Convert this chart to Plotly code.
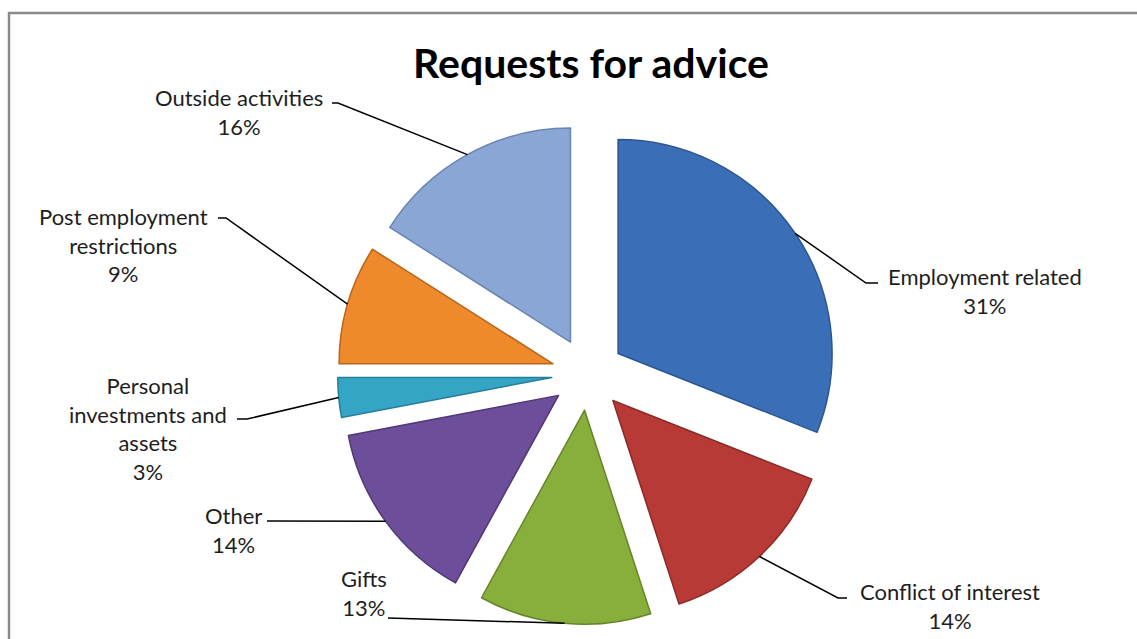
import math
import plotly.graph_objects as go

# Requests for advice, share by category (percent), clockwise from 12 o'clock
categories = [
    "Employment related",
    "Conflict of interest",
    "Gifts",
    "Other",
    "Personal investments and assets",
    "Post employment restrictions",
    "Outside activities",
]
shares = [31, 14, 13, 14, 3, 9, 16]
label_text = [
    "Employment related",
    "Conflict of interest",
    "Gifts",
    "Other",
    "Personal<br>investments and<br>assets",
    "Post employment<br>restrictions",
    "Outside activities",
]

colors = ["#3a6fb8", "#b83a36", "#88ae3c", "#6c4e9a", "#35a5c6", "#ef8a2c", "#8aa6d4"]
edges = ["#2b5590", "#8c2a27", "#66852a", "#503874", "#257e99", "#b8661c", "#6a84b0"]

W, H = 1137, 639
PULL = 0.17
CX, CY = 588, 374          # pie centre in pixels
R = 214                    # slice radius in pixels
HALF = R * (1 + PULL)      # half-size of the pie domain

fig = go.Figure(go.Pie(
    labels=categories,
    values=shares,
    sort=False,
    direction="clockwise",
    rotation=0,
    pull=[PULL] * len(shares),
    marker=dict(colors=colors, line=dict(color=edges, width=1.5)),
    textinfo="none",
    hoverinfo="label+percent",
    showlegend=False,
    domain=dict(x=[(CX - HALF) / W, (CX + HALF) / W],
                y=[1 - (CY + HALF) / H, 1 - (CY - HALF) / H]),
))

# label anchor (pixel) and elbow of the leader line next to the label
label_pos = [(985, 291), (950, 606), (364, 593), (233, 530), (148, 428), (123, 245), (239, 112)]
elbows = [((878, 283), (866, 283)),
          ((847, 598), (838, 598)),
          ((388, 618), (388, 618)),
          ((267, 521), (267, 521)),
          ((237, 419), (247, 419)),
          ((218, 218), (226, 218)),
          ((332, 103), (338, 103))]

def px(x):
    return x / W

def py(y):
    return 1 - y / H

total = sum(shares)
cum = 0
annotations = [dict(text="<b>Requests for advice</b>", x=px(591), y=py(63),
                    xref="paper", yref="paper", showarrow=False,
                    font=dict(family="Lato", size=41, color="#000000"),
                    xanchor="center", yanchor="middle")]
shapes = [dict(type="rect", xref="paper", yref="paper",
               x0=px(9), y0=py(13), x1=1.02, y1=-0.02,
               line=dict(color="#8a8a8a", width=2.5), fillcolor="rgba(0,0,0,0)")]

for i, v in enumerate(shares):
    mid = (cum + v / 2) / total * 2 * math.pi
    cum += v
    ux, uy = math.sin(mid), -math.cos(mid)
    ex, ey = CX + HALF * ux, CY + HALF * uy
    (ax, ay), (bx, by) = elbows[i]
    path = f"M {px(ax)},{py(ay)} L {px(bx)},{py(by)} L {px(ex)},{py(ey)}"
    shapes.append(dict(type="path", xref="paper", yref="paper", path=path,
                       line=dict(color="#000000", width=1.5)))
    lx, ly = label_pos[i]
    annotations.append(dict(text=f"{label_text[i]}<br>{v}%", x=px(lx), y=py(ly),
                            xref="paper", yref="paper", showarrow=False,
                            align="center", xanchor="center", yanchor="middle",
                            font=dict(family="Lato", size=22, color="#1e1e1e")))

fig.update_layout(
    width=W, height=H,
    margin=dict(l=0, r=0, t=0, b=0),
    paper_bgcolor="#ffffff",
    plot_bgcolor="#ffffff",
    annotations=annotations,
    shapes=shapes,
)

fig.write_html("out.html")
